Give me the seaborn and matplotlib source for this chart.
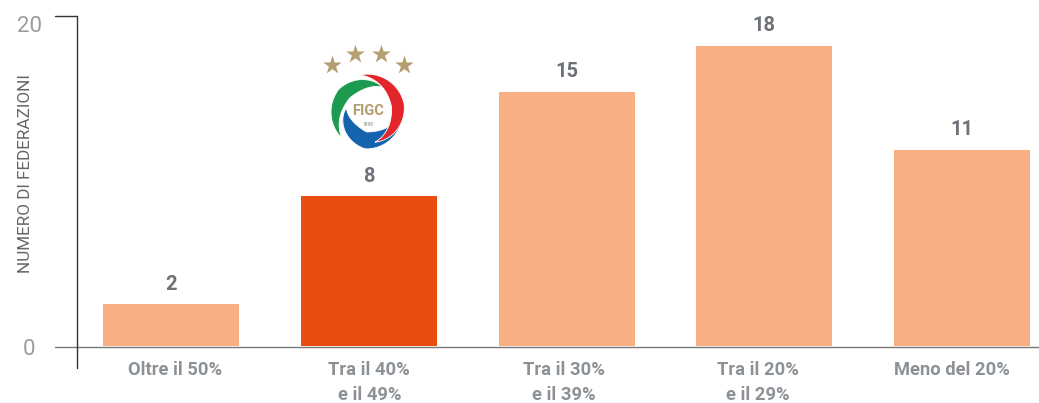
import numpy as np
import pandas as pd
import matplotlib
matplotlib.use("Agg")
import matplotlib.pyplot as plt
import seaborn as sns
from matplotlib.patches import Polygon
from matplotlib.transforms import ScaledTranslation

categories = ["Oltre il 50%", "Tra il 40%\ne il 49%", "Tra il 30%\ne il 39%", "Tra il 20%\ne il 29%", "Meno del 20%"]
value_labels = ["2", "8", "15", "18", "11"]
# the printed bars are not to scale with their labels, so heights are read off the axis
bar_heights = [2.55, 9.09, 15.4, 18.2, 11.9]
bar_colors = ["#F8AE82", "#E94E10", "#F8AE82", "#F8AE82", "#F8AE82"]

sns.set_style("white")
plt.rcParams['font.family'] = ['Roboto', 'Liberation Sans', 'DejaVu Sans']

W, H = 1039, 403
fig = plt.figure(figsize=(W / 100, H / 100), dpi=100)
ax = fig.add_axes([72 / W, (H - 346) / H, (W - 72) / W, 330 / H])

df = pd.DataFrame({"cat": categories, "val": bar_heights})
sns.barplot(data=df, x="cat", y="val", hue="cat", palette=bar_colors, legend=False, width=0.688, saturation=1,
            linewidth=0, ax=ax)

ax.set_xlim(-0.5006, 4.389)
ax.set_ylim(0, 20)
ax.set_xlabel("")
ax.set_ylabel("")
sns.despine(ax=ax, top=True, right=True, left=True, bottom=True)
ax.tick_params(length=0)
ax.set_yticks([0, 20])
ax.set_yticklabels([])
ax.set_xticks(range(5))
ax.set_xticklabels(categories, color="#8C9196", fontsize=13.2, fontweight="bold", linespacing=1.5)
ax.tick_params(axis="x", pad=11)

# category labels in the original are spaced slightly tighter than the bars
for label, shift_px in zip(ax.get_xticklabels(), [4.5, 0.5, -3, -6, -10]):
    label.set_transform(label.get_transform() + ScaledTranslation(shift_px / 100, 0, fig.dpi_scale_trans))

for i, v in enumerate(bar_heights):
    ax.annotate(value_labels[i], (i, v), xytext=(0, 7.5), textcoords="offset points", ha="center", va="bottom",
                color="#6D7278", fontsize=14.5, fontweight="bold")

# axis lines in figure pixels
def px_line(x0, y0, x1, y1, c):
    fig.add_artist(plt.Line2D([x0 / W, x1 / W], [1 - y0 / H, 1 - y1 / H], color=c, lw=1))

px_line(55, 346.5, W, 346.5, "#777777")
px_line(76.5, 15.5, 76.5, 368, "#333333")
px_line(55, 15.5, 76.5, 15.5, "#333333")

fig.text(29 / W, 1 - 24 / H, "20", color="#9A9EA2", fontsize=16, ha="center", va="center_baseline")
fig.text(29 / W, 1 - 347 / H, "0", color="#9A9EA2", fontsize=16, ha="center", va="center_baseline")
fig.text(25.5 / W, 1 - 174 / H, "NUMERO DI FEDERAZIONI", color="#666666", fontsize=12.3,
         rotation=90, ha="center", va="center")

# FIGC badge, drawn in picture pixels
logo = fig.add_axes([322 / W, 1 - 154 / H, 94 / W, 110 / H])
logo.set_xlim(322, 416)
logo.set_ylim(154, 44)
logo.axis("off")

def swoosh(a0, a1, radii, width, color):
    # spiral crescent whose thickness tapers to nothing at both tips
    t = np.linspace(0, 1, 80)
    a = np.radians(a0 + (a1 - a0) * t)
    r = np.interp(t, [0, 0.5, 1], radii)
    w = width * np.sin(np.pi * t)
    outer = np.c_[368 + r * np.cos(a), 112 - r * np.sin(a)]
    inner = np.c_[368 + (r - w) * np.cos(a), 112 - (r - w) * np.sin(a)]
    logo.add_patch(Polygon(np.r_[outer, inner[::-1]], facecolor=color, edgecolor="white", lw=0.6))

swoosh(3, -191, [34, 37, 22], 17, "#1563AE")
swoosh(225, 59, [37, 37, 29], 14, "#1B9A50")
swoosh(103, -77, [38, 37, 31], 13, "#E2262B")
logo.text(368, 111, "FIGC", color="#B39C6C", fontsize=10.5, fontweight="bold", ha="center", va="center")
logo.text(368, 124, "1898", color="#8A8A7A", fontsize=3.5, ha="center", va="center")
star_x = [332, 355, 381, 404]
star_y = [65, 54, 54, 65]
logo.scatter(star_x, star_y, marker="*", s=200, color="#B59F70", linewidths=0)

fig.savefig("out.png", dpi=100)
